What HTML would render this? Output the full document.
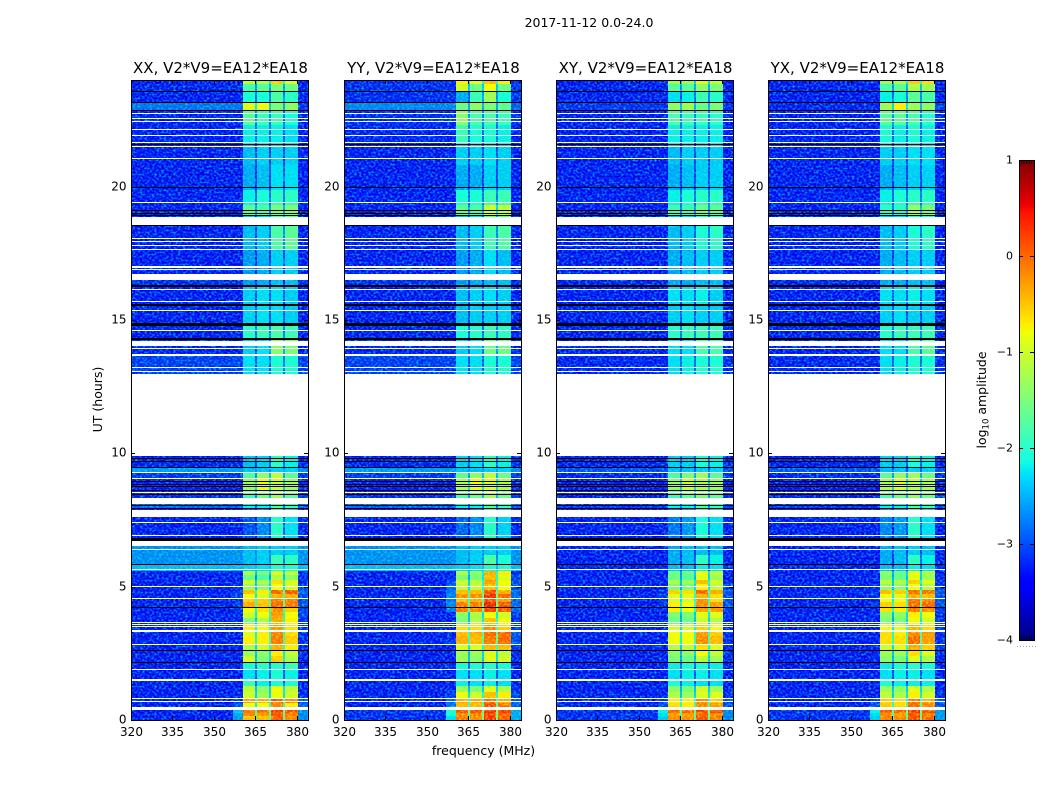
<!DOCTYPE html>
<html lang="en">
<head>
<meta charset="utf-8">
<title>2017-11-12 0.0-24.0 amplitude waterfall</title>
<style>
html,body{margin:0;padding:0;background:#fff;}
svg{display:block;}
text{font-family:"DejaVu Sans","Liberation Sans",sans-serif;fill:#000;}
</style>
</head>
<body>
<svg id="figure" xmlns="http://www.w3.org/2000/svg" width="1050" height="800" viewBox="0 0 1050 800">
  <defs>
    <filter id="speckle" x="0" y="0" width="1" height="1" color-interpolation-filters="sRGB">
      <feTurbulence type="fractalNoise" baseFrequency="0.42 0.5" numOctaves="1" seed="7" result="grain"/>
      <feColorMatrix in="grain" type="matrix" values="0 0 0 0 0  1.8 0 0 0 -0.75  0 0 0 0 0  0 0 0 0 1" result="greenGrain"/>
      <feBlend in="greenGrain" in2="SourceGraphic" mode="screen" result="lifted"/>
      <feColorMatrix in="grain" type="matrix" values="0 0 0 0 1  0 0 0 0 1  0 -1 0 0 1.5  0 0 0 0 1" result="blueGrain"/>
      <feBlend in="blueGrain" in2="lifted" mode="multiply" result="textured"/>
      <feComposite in="textured" in2="SourceAlpha" operator="in"/>
    </filter>
    <linearGradient id="jet-gradient" x1="0" y1="1" x2="0" y2="0"></linearGradient>
  </defs>
  <rect x="0" y="0" width="1050" height="800" fill="#fff"/>
  <text x="589" y="27" font-size="12.5" text-anchor="middle">2017-11-12 0.0-24.0</text>
  <text x="0" y="0" font-size="12.5" text-anchor="middle" transform="translate(102,399.5) rotate(-90)">UT (hours)</text>
  <text x="483.5" y="755" font-size="12.5" text-anchor="middle">frequency (MHz)</text>
  <g id="panels"></g>
  <g id="colorbar"></g>
  <text x="0" y="0" font-size="12.5" text-anchor="middle" transform="translate(986,400) rotate(-90)">log<tspan font-size="8.5" dy="2.5">10</tspan><tspan dy="-2.5"> amplitude</tspan></text>
  <line x1="1017" y1="646.5" x2="1036" y2="646.5" stroke="#aaa" stroke-width="1" stroke-dasharray="1 2"/>
</svg>
<script>
// ---- Chart data ----
const panelTitles = ["XX, V2*V9=EA12*EA18","YY, V2*V9=EA12*EA18","XY, V2*V9=EA12*EA18","YX, V2*V9=EA12*EA18"];
const frequencyTicks = [320,335,350,365,380];
const hourTicks = [0,5,10,15,20];
const colorbarTicks = [1,0,-1,-2,-3,-4];
// frequency bin edges, MHz
const frequencyEdges = [320,357,360.5,365,365.7,370,370.7,375,375.7,380.3,384];
// row edges, hours UT, top to bottom
const rowEdges = [24,23.85,23.59,23.18,22.88,22.31,21.56,20.81,19.88,19.31,18.9,18.53,17.63,16.73,16.28,15.56,14.81,14.25,13.91,13.69,12.98,9.9,9.45,9.26,9.08,8.55,8.33,7.91,7.61,6.83,6.56,6.19,5.85,5.59,5.44,5.25,5.1,4.88,4.73,4.58,4.43,4.24,4.05,3.83,3.6,3.38,3.15,2.85,2.63,2.4,2.18,1.91,1.5,1.28,1.05,0.83,0.64,0.45,0.26,0.15,0];
// blanked time ranges [top, bottom] hours
const blankedHours = [[22.78,22.74],[22.59,22.56],[22.48,22.44],[22.18,22.14],[21.92,21.88],[21.69,21.66],[21.53,21.49],[21.06,21.02],[19.41,19.37],[18.88,18.56],[18.09,18.06],[17.96,17.93],[17.83,17.79],[17.68,17.64],[17.03,16.97],[16.91,16.88],[16.73,16.5],[16.18,16.16],[15.71,15.68],[15.38,15.34],[14.63,14.59],[14.23,14.03],[13.95,13.91],[13.71,13.65],[13.24,13.2],[13.09,13.05],[12.98,9.9],[9.3,9.25],[9.08,9.04],[8.55,8.51],[8.33,8.1],[7.89,7.63],[7.43,7.39],[6.92,6.88],[6.73,6.56],[6.41,6.38],[5.65,5.6],[5.03,4.99],[4.58,4.54],[3.68,3.64],[3.6,3.56],[3.51,3.47],[3.39,3.32],[2.85,2.81],[1.91,1.88],[1.54,1.46],[0.83,0.79],[0.71,0.68],[0.49,0.39]];
// zero-amplitude (flagged) time ranges [top, bottom] hours
const flaggedHours = [[23.59,23.55],[23.19,23.14],[22.88,22.84],[21.6,21.56],[19.97,19.93],[19.14,19.09],[19.03,18.98],[18.92,18.88],[18.56,18.51],[16.31,16.22],[15.6,15.54],[14.89,14.79],[14.34,14.27],[9.83,9.79],[9.71,9.68],[9.49,9.45],[8.96,8.93],[8.85,8.81],[8.76,8.72],[8.63,8.59],[8.48,8.44],[8.08,8.04],[7.95,7.91],[6.83,6.73],[5.85,5.81],[4.24,4.2],[2.63,2.59],[2.18,2.14]];
// log10 amplitude per row: [background, flare, window1, window2, window3, window4, upper edge]
const xxValues = [
[-3.4,-3.4,-1.1,-1.2,-0.5,-0.9,-3.4],[-3.35,-3.35,-1.8,-1.7,-1.5,-1.6,-3.35],[-3.4,-3.4,-2.1,-2.1,-1.8,-2.0,-3.35],[-2.9,-2.9,-0.9,-0.8,-1.5,-1.4,-3.25],
[-3.35,-3.35,-1.7,-1.9,-1.9,-2.1,-3.35],[-3.4,-3.4,-2.2,-2.2,-2.2,-2.3,-3.4],[-3.4,-3.4,-2.5,-2.4,-2.4,-2.4,-3.4],[-3.4,-3.4,-2.6,-2.5,-2.3,-2.3,-3.4],
[-3.4,-3.4,-2.2,-2.1,-2.0,-2.0,-3.4],[-3.4,-3.4,-1.7,-1.8,-1.5,-1.5,-3.4],[-3.4,-3.4,-2.5,-2.4,-1.8,-1.7,-3.4],[-3.4,-3.4,-2.5,-2.4,-1.8,-1.7,-3.4],
[-3.4,-3.4,-2.7,-2.6,-2.4,-2.4,-3.4],[-3.3,-3.3,-2.7,-2.6,-2.5,-2.5,-3.3],[-3.4,-3.4,-2.4,-2.3,-2.3,-2.4,-3.4],[-3.4,-3.4,-2.4,-2.3,-2.3,-2.4,-3.4],
[-3.4,-3.4,-2.0,-1.9,-1.8,-1.9,-3.4],[-3.35,-3.35,-2.4,-2.3,-1.4,-1.5,-3.35],[-3.35,-3.35,-2.4,-2.3,-1.4,-1.5,-3.35],[-3.2,-3.2,-2.3,-2.3,-2.1,-2.1,-3.2],
null,
[-3.35,-3.35,-2.5,-2.4,-2.0,-2.2,-3.3],[-2.7,-2.7,-2.5,-2.5,-2.4,-2.4,-2.8],[-3.25,-3.25,-1.8,-1.4,-1.1,-1.7,-3.25],[-3.35,-3.35,-1.3,-0.8,-1.0,-1.3,-3.3],
[-3.3,-3.3,-1.9,-1.6,-1.3,-1.7,-3.2],[-3.0,-3.0,-2.2,-2.2,-1.8,-1.9,-3.0],[-3.4,-3.4,-3.1,-2.8,-2.0,-2.3,-3.35],[-3.4,-3.4,-3.1,-2.8,-2.0,-2.3,-3.35],
[-2.75,-2.75,-2.5,-2.4,-2.4,-2.4,-2.75],[-2.75,-2.75,-2.5,-2.4,-2.4,-2.4,-2.75],[-2.75,-2.75,-2.5,-2.4,-1.9,-2.0,-2.75],[-2.5,-2.5,-2.4,-2.3,-2.1,-2.1,-2.5],
[-3.4,-3.4,-1.2,-1.5,-0.9,-1.1,-3.3],[-3.4,-3.4,-1.6,-1.8,-1.2,-1.4,-3.3],[-3.4,-3.4,-1.0,-1.2,-0.6,-0.9,-3.3],[-3.4,-3.3,-1.3,-1.4,-0.8,-1.0,-3.2],
[-3.4,-3.2,-0.4,-0.7,0.1,0.2,-3.0],[-3.4,-3.2,-0.8,-0.9,-0.3,-0.3,-3.1],[-3.4,-3.3,-0.5,-0.5,0.0,0.0,-3.1],[-3.4,-3.2,-0.3,-0.4,0.1,0.0,-3.1],
[-3.4,-3.3,-0.8,-0.6,-0.1,-0.5,-3.2],[-3.4,-3.3,-1.0,-0.8,-0.2,-0.8,-3.2],[-3.4,-3.4,-1.5,-1.2,-0.3,-0.7,-3.3],[-3.4,-3.4,-0.7,-0.8,-0.2,-0.6,-3.3],
[-3.4,-3.4,-0.9,-0.7,-0.1,-0.6,-3.3],[-3.4,-3.4,-0.7,-0.7,0.0,-0.5,-3.3],[-3.4,-3.4,-1.2,-1.0,-0.3,-0.7,-3.3],[-3.4,-3.4,-1.3,-1.4,-0.7,-1.1,-3.35],
[-3.4,-3.4,-1.0,-1.5,-0.5,-1.2,-3.35],[-3.4,-3.4,-2.1,-2.0,-2.0,-1.9,-3.35],[-3.4,-3.4,-2.3,-2.2,-2.1,-2.2,-3.4],[-3.4,-3.4,-1.9,-2.2,-2.1,-2.1,-3.4],
[-3.4,-3.4,-1.1,-1.4,-0.8,-1.1,-3.35],[-3.4,-3.35,-1.0,-1.3,-0.8,-1.0,-3.3],[-3.4,-3.2,-0.2,-0.3,0.2,-0.1,-3.1],[-3.4,-3.1,-0.8,-0.8,-0.1,-0.7,-3.0],
[-3.4,-2.5,0.1,0.1,0.35,0.2,-2.8],[-3.4,-2.6,-0.1,-0.2,0.2,0.0,-2.8],[-3.4,-2.7,-0.4,-0.4,0.2,-0.1,-2.8]];
const yyValues = [
[-3.3,-3.3,-0.7,-0.9,-0.4,-0.7,-3.3],[-3.3,-3.3,-1.0,-1.6,-0.8,-1.6,-3.3],[-3.3,-3.3,-2.6,-1.9,-1.3,-2.1,-3.3],[-2.8,-2.8,-1.6,-1.4,-1.5,-1.7,-3.0],
[-3.3,-3.3,-1.4,-1.8,-1.8,-1.9,-3.3],[-3.35,-3.35,-1.9,-2.1,-2.1,-2.2,-3.35],[-3.4,-3.4,-2.4,-2.4,-2.3,-2.4,-3.4],[-3.4,-3.4,-2.6,-2.6,-2.4,-2.4,-3.4],
[-3.4,-3.4,-2.1,-2.1,-1.9,-1.9,-3.4],[-3.4,-3.4,-1.7,-1.8,-1.0,-1.1,-3.4],[-3.4,-3.4,-2.5,-2.4,-1.9,-1.8,-3.4],[-3.4,-3.4,-2.5,-2.4,-1.9,-1.8,-3.4],
[-3.4,-3.4,-2.7,-2.6,-2.3,-2.5,-3.4],[-3.3,-3.3,-2.7,-2.6,-2.5,-2.5,-3.3],[-3.4,-3.4,-2.5,-2.4,-2.3,-2.4,-3.4],[-3.4,-3.4,-2.5,-2.4,-2.4,-2.4,-3.4],
[-3.4,-3.4,-2.1,-2.0,-1.9,-2.0,-3.4],[-3.35,-3.35,-2.4,-2.3,-1.6,-1.6,-3.35],[-3.35,-3.35,-2.4,-2.3,-1.6,-1.6,-3.35],[-3.2,-3.2,-2.3,-2.3,-2.1,-2.1,-3.2],
null,
[-3.35,-3.35,-2.4,-2.3,-2.0,-2.2,-3.3],[-2.7,-2.7,-2.5,-2.5,-2.4,-2.4,-2.8],[-3.25,-3.25,-1.7,-1.4,-1.1,-1.6,-3.25],[-3.35,-3.35,-1.2,-0.8,-0.9,-1.2,-3.3],
[-3.3,-3.3,-1.8,-1.6,-1.3,-1.6,-3.2],[-3.0,-3.0,-2.2,-2.2,-1.8,-1.9,-3.0],[-3.4,-3.4,-3.0,-2.8,-2.0,-2.4,-3.35],[-3.4,-3.4,-3.0,-2.8,-2.0,-2.4,-3.35],
[-2.75,-2.75,-2.5,-2.4,-2.4,-2.4,-2.75],[-2.75,-2.75,-2.5,-2.4,-2.4,-2.4,-2.75],[-2.75,-2.75,-2.5,-2.4,-1.8,-2.1,-2.75],[-2.5,-2.5,-2.4,-2.3,-2.1,-2.1,-2.5],
[-3.4,-3.35,-1.2,-1.4,-0.3,-0.7,-3.3],[-3.4,-3.3,-1.5,-1.5,-0.4,-0.9,-3.2],[-3.4,-3.2,-1.0,-1.1,-0.2,-0.8,-3.2],[-3.4,-3.0,-1.1,-1.1,-0.4,-0.8,-3.1],
[-3.4,-2.9,-0.4,-0.4,0.2,-0.3,-3.0],[-3.4,-2.8,-0.1,-0.1,0.45,0.1,-3.0],[-3.4,-2.9,-0.4,-0.3,0.2,-0.2,-3.0],[-3.4,-2.8,0.0,0.0,0.5,0.2,-3.0],
[-3.4,-2.9,0.0,-0.1,0.3,0.2,-3.0],[-3.4,-3.35,-1.4,-1.2,-0.8,-1.0,-3.2],[-3.4,-3.4,-1.5,-1.2,-0.4,-0.8,-3.3],[-3.4,-3.4,-0.6,-0.6,-0.1,-0.5,-3.3],
[-3.4,-3.35,-0.4,-0.3,0.1,0.1,-3.1],[-3.4,-3.3,-0.3,-0.4,0.0,0.1,-3.1],[-3.4,-3.35,-0.9,-0.9,-0.4,-0.4,-3.2],[-3.4,-3.4,-1.3,-1.3,-0.9,-1.1,-3.35],
[-3.4,-3.4,-1.3,-1.4,-0.9,-1.0,-3.35],[-3.4,-3.4,-2.1,-2.1,-2.0,-2.1,-3.35],[-3.4,-3.4,-2.3,-2.3,-2.2,-2.3,-3.4],[-3.4,-3.4,-2.2,-2.3,-2.2,-2.3,-3.4],
[-3.4,-3.35,-1.3,-1.5,-0.9,-1.2,-3.3],[-3.4,-3.2,-0.8,-1.0,-0.4,-0.7,-3.2],[-3.4,-3.0,-0.3,-0.3,0.1,-0.3,-3.0],[-3.4,-2.9,-0.4,-0.4,0.2,0.0,-3.0],
[-3.3,-2.1,0.2,0.2,0.4,0.3,-2.6],[-3.3,-2.1,-0.1,0.0,0.3,0.1,-2.6],[-3.3,-2.3,0.0,-0.1,0.4,0.2,-2.6]];
const xyValues = [
[-3.4,-3.4,-1.3,-1.3,-0.9,-1.1,-3.4],[-3.4,-3.4,-1.7,-1.7,-1.4,-1.5,-3.4],[-3.4,-3.4,-2.3,-2.2,-1.9,-2.0,-3.35],[-3.25,-3.25,-1.4,-1.3,-1.6,-1.5,-3.25],
[-3.4,-3.4,-1.8,-1.9,-1.9,-2.0,-3.35],[-3.4,-3.4,-2.2,-2.2,-2.2,-2.2,-3.4],[-3.4,-3.4,-2.5,-2.4,-2.4,-2.4,-3.4],[-3.4,-3.4,-2.6,-2.5,-2.4,-2.4,-3.4],
[-3.4,-3.4,-2.2,-2.1,-2.0,-2.0,-3.4],[-3.4,-3.4,-1.9,-1.9,-1.6,-1.7,-3.4],[-3.4,-3.4,-2.5,-2.4,-2.1,-2.0,-3.4],[-3.4,-3.4,-2.5,-2.4,-2.1,-2.0,-3.4],
[-3.4,-3.4,-2.6,-2.5,-2.4,-2.4,-3.4],[-3.35,-3.35,-2.6,-2.6,-2.5,-2.5,-3.35],[-3.4,-3.4,-2.3,-2.3,-2.2,-2.4,-3.4],[-3.4,-3.4,-2.4,-2.3,-2.4,-2.4,-3.4],
[-3.4,-3.4,-2.0,-1.9,-1.9,-1.9,-3.4],[-3.4,-3.4,-2.3,-2.3,-1.8,-1.8,-3.35],[-3.4,-3.4,-2.3,-2.3,-1.8,-1.8,-3.35],[-3.35,-3.35,-2.3,-2.2,-2.1,-2.1,-3.3],
null,
[-3.4,-3.4,-2.4,-2.4,-2.1,-2.2,-3.35],[-3.1,-3.1,-2.5,-2.5,-2.4,-2.4,-3.1],[-3.35,-3.35,-1.8,-1.5,-1.3,-1.7,-3.3],[-3.4,-3.4,-1.4,-1.0,-1.2,-1.3,-3.35],
[-3.35,-3.35,-1.9,-1.7,-1.5,-1.7,-3.25],[-3.25,-3.25,-2.2,-2.2,-1.8,-1.9,-3.15],[-3.4,-3.4,-2.9,-2.7,-2.1,-2.3,-3.4],[-3.4,-3.4,-2.9,-2.7,-2.1,-2.3,-3.4],
[-3.4,-3.4,-2.6,-2.5,-2.5,-2.5,-3.35],[-3.4,-3.4,-2.6,-2.5,-2.5,-2.5,-3.35],[-3.4,-3.4,-2.6,-2.5,-2.0,-2.2,-3.35],[-3.35,-3.35,-2.5,-2.5,-2.2,-2.3,-3.3],
[-3.4,-3.4,-1.6,-1.6,-0.8,-1.1,-3.35],[-3.4,-3.4,-1.6,-1.7,-0.9,-1.3,-3.35],[-3.4,-3.4,-1.2,-1.3,-0.4,-1.0,-3.3],[-3.4,-3.35,-1.5,-1.5,-0.7,-1.1,-3.2],
[-3.4,-3.3,-0.5,-0.6,0.1,-0.3,-3.1],[-3.4,-3.3,-0.9,-0.9,-0.3,-0.6,-3.1],[-3.4,-3.3,-1.0,-0.9,-0.1,-0.6,-3.1],[-3.4,-3.3,-0.7,-0.8,-0.1,-0.2,-3.1],
[-3.4,-3.35,-0.7,-0.8,-0.2,-0.2,-3.2],[-3.4,-3.4,-1.5,-1.5,-0.9,-0.9,-3.3],[-3.4,-3.4,-1.6,-1.6,-1.0,-1.2,-3.3],[-3.4,-3.4,-1.0,-1.0,-0.5,-0.8,-3.3],
[-3.4,-3.4,-0.8,-0.8,-0.2,-0.5,-3.3],[-3.4,-3.4,-0.8,-0.8,-0.1,-0.4,-3.3],[-3.4,-3.4,-1.2,-1.1,-0.6,-0.9,-3.3],[-3.4,-3.4,-1.4,-1.4,-0.8,-1.1,-3.35],
[-3.4,-3.4,-1.5,-1.6,-1.1,-1.3,-3.35],[-3.4,-3.4,-2.2,-2.1,-2.1,-2.2,-3.35],[-3.4,-3.4,-2.3,-2.2,-2.2,-2.3,-3.4],[-3.4,-3.4,-2.1,-2.2,-2.3,-2.3,-3.4],
[-3.4,-3.4,-1.4,-1.5,-1.0,-1.3,-3.35],[-3.4,-3.35,-1.2,-1.3,-0.9,-0.9,-3.3],[-3.4,-3.2,-0.7,-0.7,-0.1,-0.5,-3.1],[-3.4,-3.1,-0.6,-0.7,-0.1,-0.2,-3.1],
[-3.3,-2.2,0.1,0.1,0.3,0.2,-2.8],[-3.3,-2.3,-0.2,-0.2,0.1,-0.1,-2.8],[-3.3,-2.4,-0.1,-0.1,0.2,0.0,-2.8]];
const yxValues = [
[-3.4,-3.4,-1.3,-1.2,-0.5,-0.6,-3.4],[-3.4,-3.4,-1.8,-1.7,-1.2,-1.3,-3.4],[-3.4,-3.4,-2.2,-2.1,-1.7,-1.8,-3.35],[-3.35,-3.35,-1.3,-0.7,-1.3,-1.4,-3.2],
[-3.4,-3.4,-1.7,-1.7,-1.8,-2.0,-3.35],[-3.4,-3.4,-2.1,-2.2,-2.1,-2.2,-3.4],[-3.4,-3.4,-2.4,-2.4,-2.3,-2.3,-3.4],[-3.4,-3.4,-2.6,-2.5,-2.4,-2.4,-3.4],
[-3.4,-3.4,-2.2,-2.1,-2.0,-2.0,-3.4],[-3.4,-3.4,-2.0,-2.0,-1.3,-1.5,-3.4],[-3.4,-3.4,-2.5,-2.4,-2.1,-2.0,-3.4],[-3.4,-3.4,-2.5,-2.4,-2.1,-2.0,-3.4],
[-3.4,-3.4,-2.6,-2.5,-2.4,-2.4,-3.4],[-3.35,-3.35,-2.6,-2.6,-2.5,-2.5,-3.35],[-3.4,-3.4,-2.3,-2.3,-2.2,-2.3,-3.4],[-3.4,-3.4,-2.4,-2.3,-2.4,-2.4,-3.4],
[-3.4,-3.4,-2.0,-1.9,-1.9,-1.9,-3.4],[-3.4,-3.4,-2.3,-2.3,-1.8,-1.7,-3.35],[-3.4,-3.4,-2.3,-2.3,-1.8,-1.7,-3.35],[-3.35,-3.35,-2.3,-2.2,-2.1,-2.1,-3.3],
null,
[-3.4,-3.4,-2.4,-2.4,-2.1,-2.2,-3.35],[-3.1,-3.1,-2.5,-2.5,-2.4,-2.4,-3.1],[-3.35,-3.35,-1.7,-1.4,-1.3,-1.6,-3.3],[-3.4,-3.4,-1.2,-0.9,-1.1,-1.2,-3.35],
[-3.35,-3.35,-1.8,-1.6,-1.4,-1.6,-3.25],[-3.25,-3.25,-2.2,-2.2,-1.8,-1.9,-3.15],[-3.4,-3.4,-2.8,-2.7,-2.0,-2.3,-3.4],[-3.4,-3.4,-2.8,-2.7,-2.0,-2.3,-3.4],
[-3.4,-3.4,-2.6,-2.5,-2.4,-2.5,-3.35],[-3.4,-3.4,-2.6,-2.5,-2.4,-2.5,-3.35],[-3.4,-3.4,-2.6,-2.5,-2.0,-2.2,-3.35],[-3.35,-3.35,-2.5,-2.5,-2.2,-2.3,-3.3],
[-3.4,-3.4,-1.4,-1.6,-0.8,-1.2,-3.35],[-3.4,-3.4,-1.5,-1.6,-0.9,-1.3,-3.35],[-3.4,-3.4,-1.1,-1.2,-0.5,-0.9,-3.3],[-3.4,-3.35,-1.4,-1.4,-0.8,-1.2,-3.2],
[-3.4,-3.3,-0.4,-0.5,0.1,0.0,-3.1],[-3.4,-3.3,-0.8,-0.9,-0.3,-0.4,-3.1],[-3.4,-3.3,-0.8,-0.8,0.0,-0.1,-3.1],[-3.4,-3.3,-0.5,-0.6,0.1,0.1,-3.1],
[-3.4,-3.35,-0.6,-0.7,0.0,-0.1,-3.2],[-3.4,-3.4,-1.4,-1.4,-0.7,-0.8,-3.3],[-3.4,-3.4,-1.5,-1.5,-0.8,-1.0,-3.3],[-3.4,-3.4,-0.8,-0.9,-0.3,-0.6,-3.3],
[-3.4,-3.4,-0.6,-0.7,-0.1,-0.2,-3.3],[-3.4,-3.4,-0.6,-0.6,0.1,-0.2,-3.3],[-3.4,-3.4,-1.0,-0.9,-0.3,-0.5,-3.3],[-3.4,-3.4,-1.3,-1.3,-0.6,-0.9,-3.35],
[-3.4,-3.4,-1.4,-1.5,-0.9,-1.2,-3.35],[-3.4,-3.4,-2.2,-2.1,-2.0,-2.1,-3.35],[-3.4,-3.4,-2.3,-2.2,-2.2,-2.3,-3.4],[-3.4,-3.4,-2.1,-2.2,-2.2,-2.2,-3.4],
[-3.4,-3.4,-1.3,-1.4,-0.9,-1.2,-3.35],[-3.4,-3.35,-1.1,-1.2,-0.7,-1.0,-3.3],[-3.4,-3.2,-0.5,-0.6,0.0,-0.3,-3.1],[-3.4,-3.1,-0.5,-0.6,0.1,-0.1,-3.1],
[-3.3,-2.2,0.2,0.1,0.4,0.25,-2.7],[-3.3,-2.3,-0.1,-0.2,0.2,0.0,-2.7],[-3.3,-2.4,0.0,-0.1,0.3,0.1,-2.7]];

// ---- Layout and scales ----
const SVGNS = "http://www.w3.org/2000/svg";
const panelSeries = [xxValues, yyValues, xyValues, yxValues];
const panelLeft = [131, 344, 556, 768];
const panelWidth = 177, plotTop = 80, plotBottom = 720;
const freqMin = 320, freqMax = 384, hourMin = 0, hourMax = 24;
const colorMin = -4, colorMax = 1, barTop = 160, barBottom = 640, barLeft = 1019, barRight = 1034;

function xScale(left, mhz) { return left + (mhz - freqMin) / (freqMax - freqMin) * panelWidth; }
function yScale(hour) { return plotBottom - (hour - hourMin) / (hourMax - hourMin) * (plotBottom - plotTop); }
function colorbarY(v) { return barBottom - (v - colorMin) / (colorMax - colorMin) * (barBottom - barTop); }

function ramp(t, pts) {
  for (let i = 1; i < pts.length; i++) {
    if (t <= pts[i][0]) {
      const a = pts[i - 1], b = pts[i];
      return a[1] + (b[1] - a[1]) * (t - a[0]) / (b[0] - a[0]);
    }
  }
  return pts[pts.length - 1][1];
}
function jet(t) {
  t = Math.max(0, Math.min(1, t));
  const r = ramp(t, [[0,0],[0.35,0],[0.66,1],[0.89,1],[1,0.5]]);
  const g = ramp(t, [[0,0],[0.125,0],[0.375,1],[0.64,1],[0.91,0],[1,0]]);
  const b = ramp(t, [[0,0.5],[0.11,1],[0.34,1],[0.65,0],[1,0]]);
  return "rgb(" + Math.round(r * 255) + "," + Math.round(g * 255) + "," + Math.round(b * 255) + ")";
}
function colorFor(v) { return jet((v - colorMin) / (colorMax - colorMin)); }

function make(tag, attrs, parent) {
  const el = document.createElementNS(SVGNS, tag);
  for (const k in attrs) el.setAttribute(k, attrs[k]);
  parent.appendChild(el);
  return el;
}

// Value of a frequency bin in a row; the narrow bins between windows follow their neighbours.
function binValue(row, bin) {
  const windowGap = { 3: [2, 3], 5: [3, 4], 7: [4, 5] };
  if (windowGap[bin]) {
    const pair = windowGap[bin];
    const mean = (row[pair[0]] + row[pair[1]]) / 2;
    return Math.max(row[0], mean * 0.6 - 1.7);
  }
  const direct = { 0: 0, 1: 1, 2: 2, 4: 3, 6: 4, 8: 5, 9: 6 };
  return row[direct[bin]];
}
// Pixel band for an hour range: at least one pixel, thickness taken from the range itself.
function hourBand(range) {
  const y0 = Math.round(yScale(range[0]));
  const h = Math.max(1, Math.round(yScale(range[1]) - yScale(range[0])));
  return { y: y0, height: h };
}

const panelsRoot = document.getElementById("panels");
panelSeries.forEach(function (series, p) {
  const left = panelLeft[p];
  const right = left + panelWidth;
  const g = make("g", {}, panelsRoot);
  
  

  const cells = make("g", { filter: "url(#speckle)", "shape-rendering": "crispEdges" }, g);
  
  
  series.forEach(function (row, r) {
    if (!row) return;
    const y0 = Math.round(yScale(rowEdges[r]));
    const y1 = Math.round(yScale(rowEdges[r + 1]));
    for (let b = 0; b < frequencyEdges.length - 1; b++) {
      const x0 = Math.round(xScale(left, frequencyEdges[b]));
      const x1 = Math.round(xScale(left, frequencyEdges[b + 1]));
      const cell = make("rect", { x: x0, y: y0, width: x1 - x0, height: y1 - y0, fill: colorFor(binValue(row, b)) }, cells);
      
      
    }
  });

  blankedHours.forEach(function (range) {
    const band = hourBand(range);
    const gap = make("rect", { x: left, y: band.y, width: panelWidth, height: band.height, fill: "#fff", "shape-rendering": "crispEdges" }, g);
    
    
  });
  flaggedHours.forEach(function (range) {
    const band = hourBand(range);
    const line = make("rect", { x: left, y: band.y, width: panelWidth, height: band.height, fill: "#000", "shape-rendering": "crispEdges" }, g);
    
    
  });

  const frame = make("rect", { x: left + 0.5, y: plotTop + 0.5, width: panelWidth, height: plotBottom - plotTop, fill: "none", stroke: "#000", "stroke-width": 1, "shape-rendering": "crispEdges" }, g);
  
  

  const title = make("text", { x: (left + right) / 2 + 1, y: 73, "font-size": 15, "text-anchor": "middle" }, g);
  
  
  title.textContent = panelTitles[p];

  frequencyTicks.forEach(function (f) {
    const x = Math.round(xScale(left, f)) + 0.5;
    const bottomTick = make("line", { x1: x, x2: x, y1: plotBottom, y2: plotBottom - 4, stroke: "#000" }, g);
    
    
    const topTick = make("line", { x1: x, x2: x, y1: plotTop, y2: plotTop + 4, stroke: "#000" }, g);
    
    
    const label = make("text", { x: x, y: 736, "font-size": 12, "text-anchor": "middle" }, g);
    
    
    label.textContent = String(f);
  });
  hourTicks.forEach(function (h) {
    const y = Math.round(yScale(h)) + 0.5;
    const leftTick = make("line", { x1: left, x2: left + 4, y1: y, y2: y, stroke: "#000" }, g);
    
    
    const rightTick = make("line", { x1: right, x2: right - 4, y1: y, y2: y, stroke: "#000" }, g);
    
    
    const label = make("text", { x: left - 4.5, y: y + 3, "font-size": 12, "text-anchor": "end" }, g);
    
    
    label.textContent = String(h);
  });
});

// ---- Colorbar ----
const gradient = document.getElementById("jet-gradient");
for (let i = 0; i <= 100; i++) {
  make("stop", { offset: (i / 100), "stop-color": jet(i / 100) }, gradient);
}
const bar = document.getElementById("colorbar");
const barBody = make("rect", { x: barLeft + 0.5, y: barTop + 0.5, width: barRight - barLeft, height: barBottom - barTop, fill: "url(#jet-gradient)", stroke: "#000", "stroke-width": 1, "shape-rendering": "crispEdges" }, bar);


colorbarTicks.forEach(function (v) {
  const y = Math.round(colorbarY(v)) + 0.5;
  const leftTick = make("line", { x1: barLeft, x2: barLeft + 4, y1: y, y2: y, stroke: "#000" }, bar);
  
  
  const rightTick = make("line", { x1: barRight, x2: barRight - 4, y1: y, y2: y, stroke: "#000" }, bar);
  
  
  const label = make("text", { x: barLeft - 6, y: y + 3, "font-size": 11, "text-anchor": "end" }, bar);
  
  
  label.textContent = (v < 0 ? "\u2212" + Math.abs(v) : String(v));
});
for (let i = 0; i < 5; i++) {
  const x = barLeft + 2.5 + i * 2.5;
  const topMinor = make("line", { x1: x, x2: x, y1: barTop, y2: barTop + 4, stroke: "#000", "stroke-width": 0.8 }, bar);
  
  
  const bottomMinor = make("line", { x1: x, x2: x, y1: barBottom, y2: barBottom - 4, stroke: "#000", "stroke-width": 0.8 }, bar);
  
  
}
</script>
</body>
</html>
